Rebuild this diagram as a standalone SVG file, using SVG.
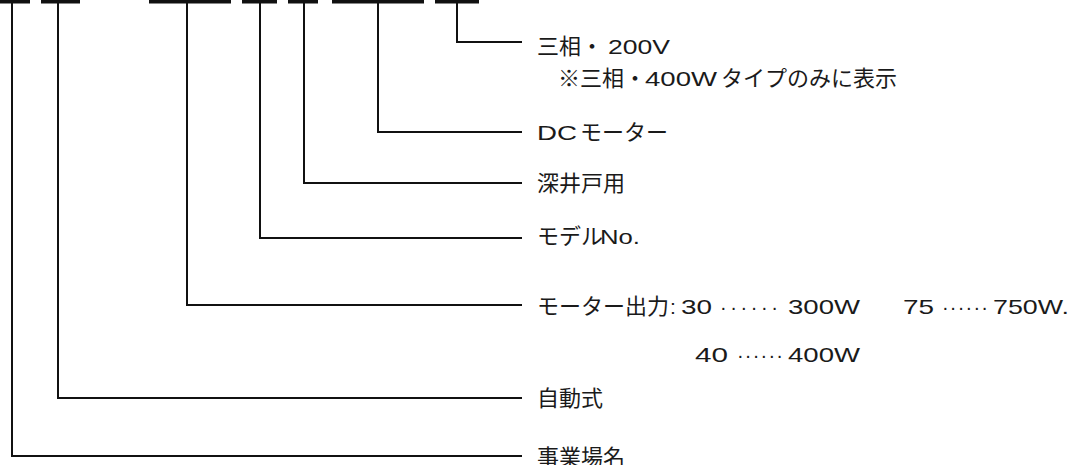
<svg xmlns="http://www.w3.org/2000/svg" width="1074" height="465" viewBox="0 0 1074 465">
<style>
.bar{fill:#111}
.ln{fill:none;stroke:#111;stroke-width:2}
.t{font-family:"Noto Sans CJK JP","Noto Sans",sans-serif;font-size:22px;fill:#1a1a1a}
.l{font-family:"Liberation Sans","Noto Sans",sans-serif;font-size:21px}
.d{font-family:"Liberation Sans",sans-serif;font-size:20px}
</style>
<rect width="1074" height="465" fill="#fff"/>
<g id="code-segments">
<rect id="seg1" class="bar" x="0" y="-1" width="30" height="4.5"/>
<rect id="seg2" class="bar" x="41" y="-1" width="39" height="4.5"/>
<rect id="seg3" class="bar" x="149" y="-1" width="82" height="4.5"/>
<rect id="seg4" class="bar" x="242" y="-1" width="35" height="4.5"/>
<rect id="seg5" class="bar" x="288" y="-1" width="30" height="4.5"/>
<rect id="seg6" class="bar" x="332" y="-1" width="92" height="4.5"/>
<rect id="seg7" class="bar" x="435" y="-1" width="44" height="4.5"/>
</g>
<g id="connectors">
<path class="ln" d="M457,3V42H522"/>
<path class="ln" d="M378,3V132H522"/>
<path class="ln" d="M304,3V183H522"/>
<path class="ln" d="M260,3V238H522"/>
<path class="ln" d="M187,3V305H522"/>
<path class="ln" d="M58,3V398H522"/>
<path class="ln" d="M12,3V456H522"/>
</g>
<g id="label-voltage">
<text class="t" x="537" y="54">三相・<tspan class="l" x="608" textLength="62" lengthAdjust="spacingAndGlyphs">200V</tspan></text>
<text class="t" x="558" y="86">※三相・<tspan class="l" x="645" textLength="72" lengthAdjust="spacingAndGlyphs">400W</tspan><tspan x="721">タイプのみに表示</tspan></text>
</g>
<g id="label-dc">
<text class="t" x="537" y="140"><tspan class="l" textLength="40" lengthAdjust="spacingAndGlyphs">DC</tspan><tspan x="580">モーター</tspan></text>
</g>
<g id="label-deepwell">
<text class="t" x="537" y="191">深井戸用</text>
</g>
<g id="label-model">
<text class="t" x="537" y="244">モデル<tspan class="l" x="600" textLength="40" lengthAdjust="spacingAndGlyphs">No.</tspan></text>
</g>
<g id="label-output">
<text class="t" x="537" y="314">モーター出力<tspan class="l" x="670">:</tspan><tspan class="l" x="681" textLength="31" lengthAdjust="spacingAndGlyphs">30</tspan><tspan class="d" x="720" textLength="58" lengthAdjust="spacing">······</tspan><tspan class="l" x="788" textLength="72" lengthAdjust="spacingAndGlyphs">300W</tspan><tspan class="l" x="903" textLength="31" lengthAdjust="spacingAndGlyphs">75</tspan><tspan class="d" x="942" textLength="46" lengthAdjust="spacing">······</tspan><tspan class="l" x="993" textLength="76" lengthAdjust="spacingAndGlyphs">750W.</tspan></text>
<text class="t" x="695" y="362"><tspan class="l" textLength="33" lengthAdjust="spacingAndGlyphs">40</tspan><tspan class="d" x="737" textLength="46" lengthAdjust="spacing">······</tspan><tspan class="l" x="788" textLength="72" lengthAdjust="spacingAndGlyphs">400W</tspan></text>
</g>
<g id="label-auto">
<text class="t" x="537" y="406">自動式</text>
</g>
<g id="label-site">
<text class="t" x="537" y="465">事業場名</text>
</g>
</svg>
